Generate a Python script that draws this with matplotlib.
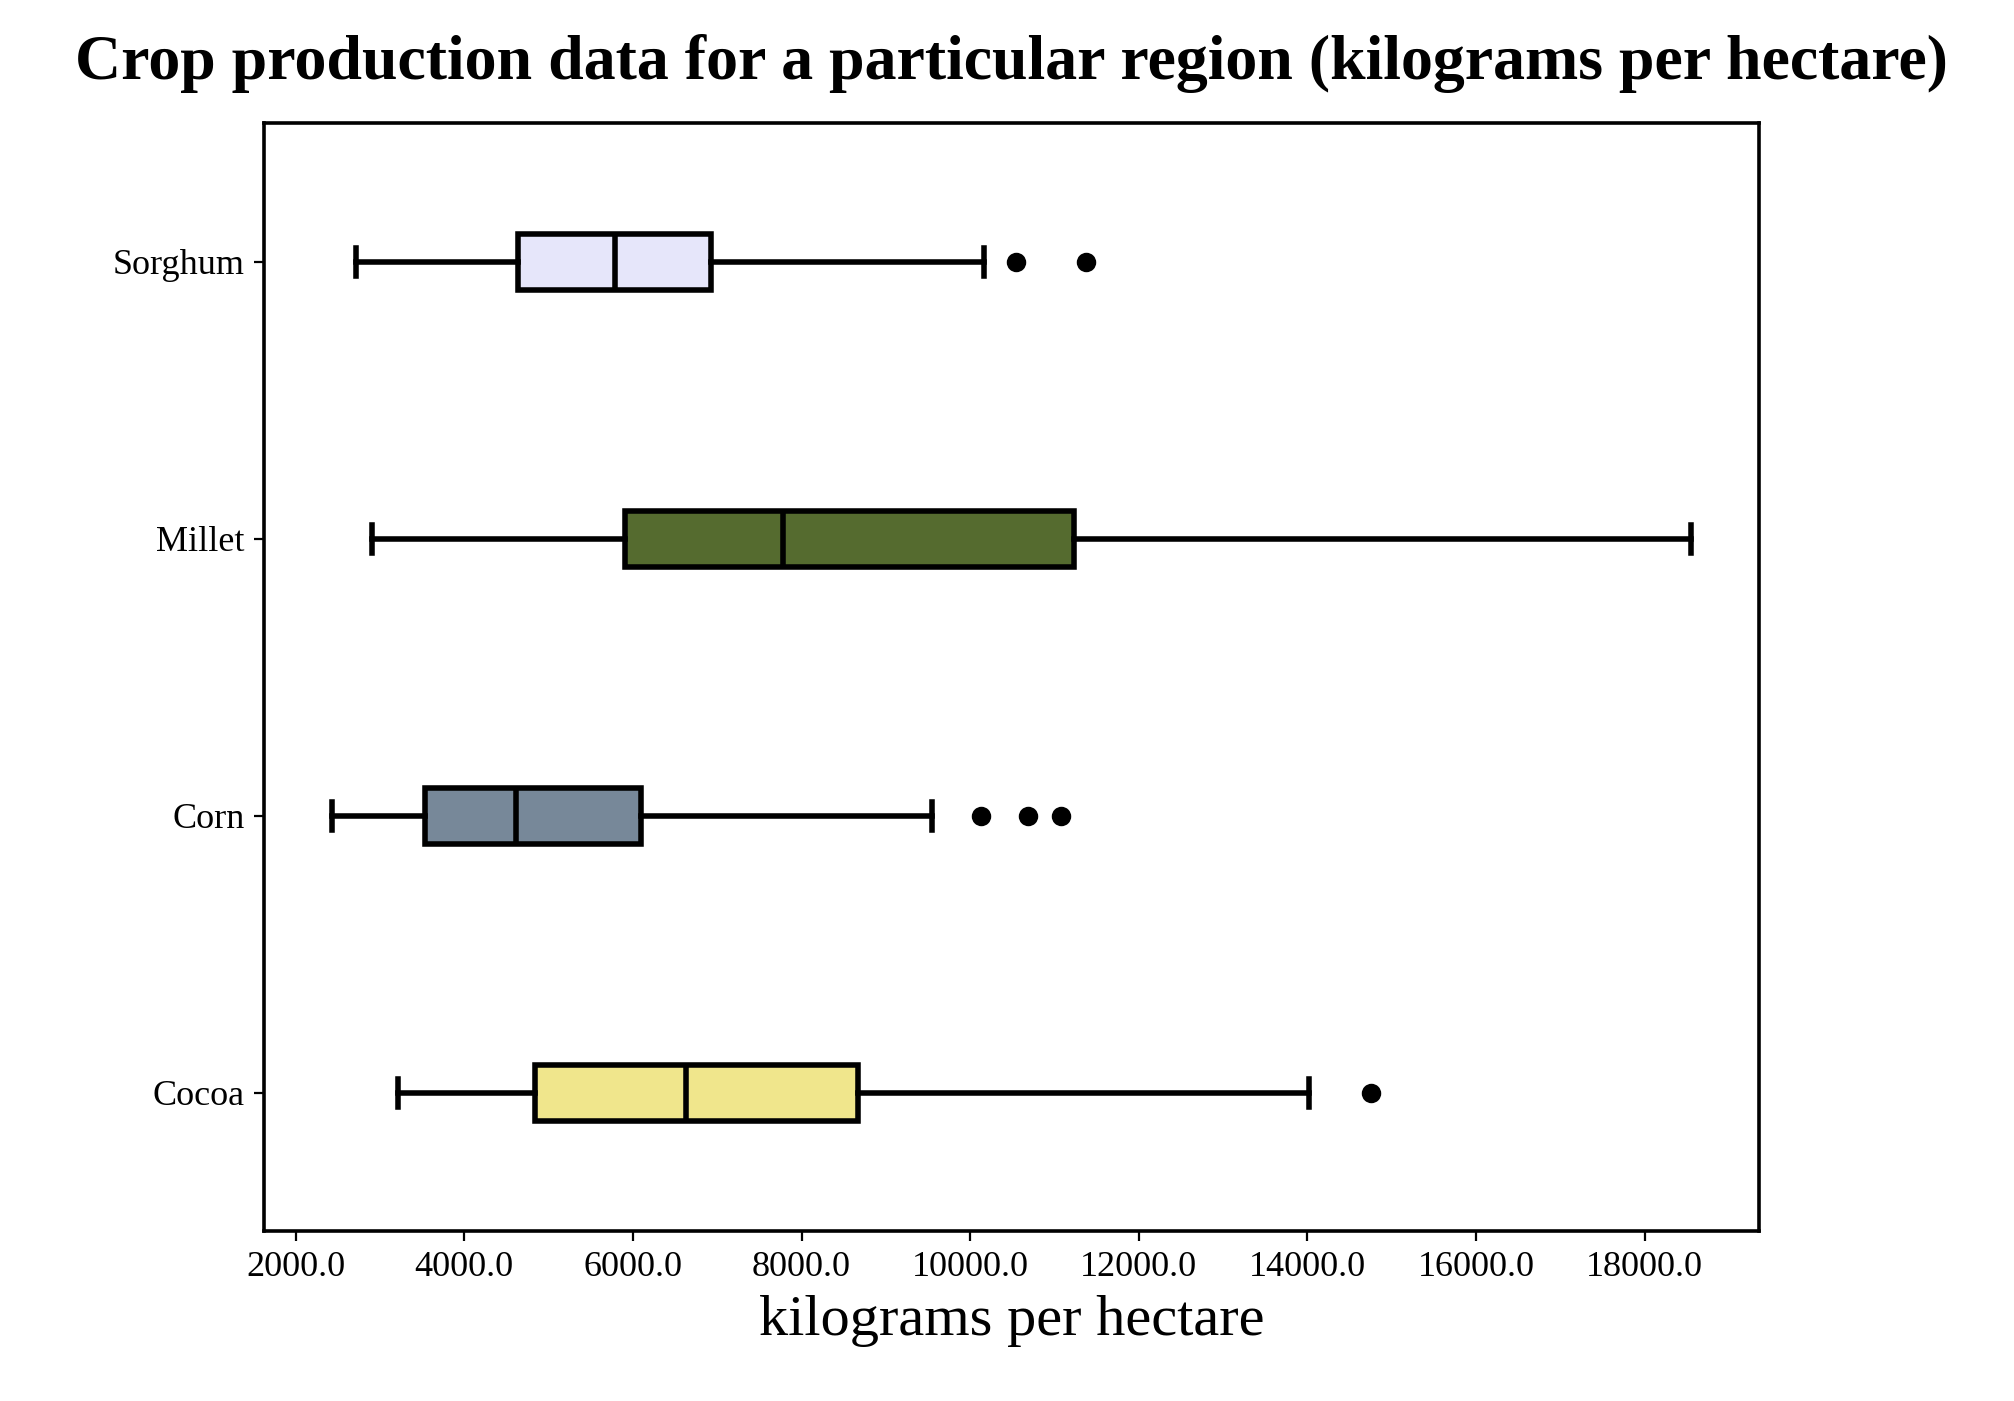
import matplotlib
matplotlib.use("Agg")
import matplotlib.pyplot as plt
import matplotlib.ticker as ticker

plt.rcParams['font.family'] = ['Liberation Serif', 'DejaVu Serif']

crops = ["Cocoa", "Corn", "Millet", "Sorghum"]
whislo = [3210, 2430, 2900, 2720]
q1 = [4840, 3530, 5900, 4640]
med = [6630, 4610, 7780, 5790]
q3 = [8670, 6100, 11230, 6920]
whishi = [14020, 9550, 18550, 10160]
fliers = [[14750], [10130, 10680, 11080], [], [10540, 11370]]
colors = ["#F0E68C", "#778899", "#556B2F", "#E6E6FA"]

stats = []
for i, name in enumerate(crops):
    stats.append(dict(label=name, whislo=whislo[i], q1=q1[i], med=med[i],
                      q3=q3[i], whishi=whishi[i], fliers=fliers[i]))

fig = plt.figure(figsize=(10.075, 7.005), dpi=200)
ax = fig.add_axes([0.131, 0.121, 0.742, 0.791])
bp = ax.bxp(stats, vert=False, widths=0.2, patch_artist=True,
            boxprops=dict(linewidth=2, edgecolor='black'),
            medianprops=dict(color='black', linewidth=2),
            whiskerprops=dict(linewidth=2),
            capprops=dict(linewidth=2),
            flierprops=dict(marker='o', markerfacecolor='black',
                            markeredgecolor='black', markersize=6))
for patch, c in zip(bp['boxes'], colors):
    patch.set_facecolor(c)

for s in ax.spines.values():
    s.set_linewidth(1.3)
ax.set_xticks(range(2000, 18001, 2000))
ax.xaxis.set_major_formatter(ticker.FormatStrFormatter('%.1f'))
ax.tick_params(labelsize=13)
ax.set_xlabel('kilograms per hectare', fontsize=21)
ax.set_title('Crop production data for a particular region (kilograms per hectare)',
             fontsize=23, fontweight='bold', pad=16)

plt.savefig("out.png", dpi=200)
